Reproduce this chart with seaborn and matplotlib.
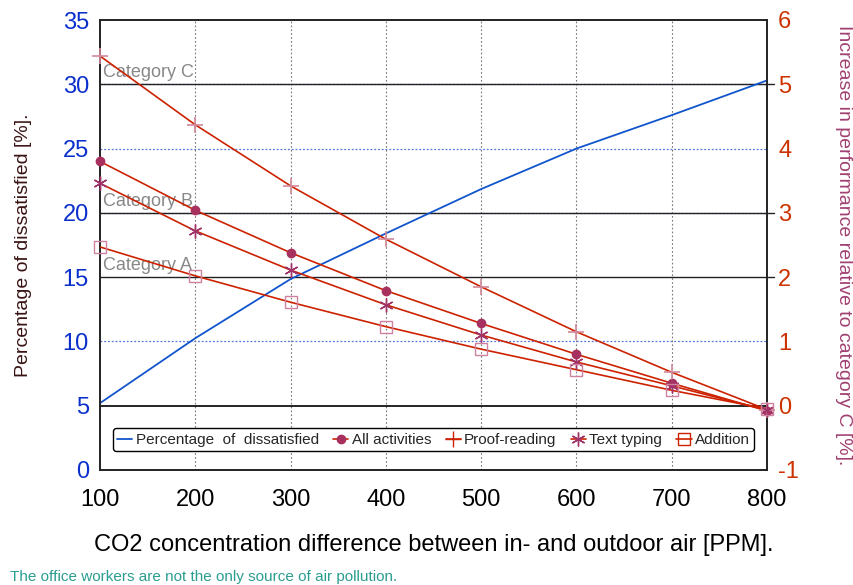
import matplotlib
matplotlib.use("Agg")
import matplotlib.pyplot as plt
import seaborn as sns
import pandas as pd
from matplotlib.lines import Line2D

# ---- data ----
co2 = [100, 200, 300, 400, 500, 600, 700, 800]
dissatisfied = [5.2, 10.25, 14.85, 18.4, 21.85, 25.0, 27.6, 30.3]
all_activities = [3.80, 3.04, 2.38, 1.79, 1.28, 0.80, 0.35, -0.08]
proof_reading = [5.44, 4.37, 3.42, 2.59, 1.85, 1.15, 0.52, -0.06]
text_typing = [3.46, 2.72, 2.11, 1.57, 1.10, 0.68, 0.31, -0.07]
addition = [2.47, 2.02, 1.61, 1.23, 0.88, 0.56, 0.24, -0.05]
categories = ["Category A", "Category B", "Category C"]
category_levels = [15, 20, 30]
left_ticks = [0, 5, 10, 15, 20, 25, 30, 35]
right_ticks = [-1, 0, 1, 2, 3, 4, 5, 6]
x_ticks = [100, 200, 300, 400, 500, 600, 700, 800]

sns.set_style("white")
FONT = ["Liberation Sans Narrow", "Liberation Sans", "DejaVu Sans"]
plt.rcParams["font.family"] = FONT
plt.rcParams["axes.unicode_minus"] = False

fig = plt.figure(figsize=(8.54, 5.85), dpi=100)
ax = fig.add_axes([100 / 854, 1 - 470 / 585, 667 / 854, 450 / 585])
ax2 = ax.twinx()

RED = "#cc2200"
BLUE = "#1155cc"

# gridlines
for y in [10, 20, 25, 30]:
    ax.axhline(y, color="#5577dd", lw=0.9, ls=(0, (1.5, 1.5)), zorder=1)
for x in x_ticks[1:-1]:
    ax.axvline(x, color="#777777", lw=0.8, ls=(0, (1.5, 2)), zorder=1)
ax.axhline(5, color="black", lw=1.2, zorder=1.5)
for lvl, name in zip(category_levels, categories):
    ax.axhline(lvl, xmin=0, xmax=1.01, color="#222222", lw=1.0, zorder=1.5, clip_on=False)
    ax.text(103, lvl + 0.25, name, color="#888888", fontsize=13, ha="left", va="bottom", zorder=2)

# blue line
df_blue = pd.DataFrame({"x": co2, "y": dissatisfied})
sns.lineplot(data=df_blue, x="x", y="y", ax=ax, color=BLUE, lw=1.3, zorder=3, legend=False)

# performance series
series = [
    (all_activities, "o", dict(markersize=6, markerfacecolor="#a8305e", markeredgecolor="#a8305e")),
    (proof_reading, "+", dict(markersize=12, markeredgecolor="#d08898", markeredgewidth=1.2)),
    (text_typing, (6, 2, 0), dict(markersize=10, markeredgecolor="#a03468", markeredgewidth=1.0)),
    (addition, "s", dict(markersize=9, markerfacecolor="none", markeredgecolor="#d080a0", markeredgewidth=1.0)),
]
for vals, mk, kw in series:
    d = pd.DataFrame({"x": co2, "y": vals})
    sns.lineplot(data=d, x="x", y="y", ax=ax2, color=RED, lw=1.2, zorder=3, legend=False)
    ax2.plot(co2, vals, ls="none", marker=mk, zorder=4, clip_on=False, **kw)

ax.set_xlim(100, 800)
ax.set_ylim(0, 35)
ax2.set_ylim(-1, 6)
ax.set_xticks(x_ticks)
ax.set_yticks(left_ticks)
ax2.set_yticks(right_ticks)
ax.tick_params(axis="x", labelsize=17, colors="black", length=0, pad=14)
ax.tick_params(axis="y", labelsize=17, labelcolor="#0a2fcc", length=0, pad=8)
ax2.tick_params(axis="y", labelsize=17, labelcolor="#cc3300", length=0, pad=8)
ax.set_xlabel("CO2 concentration difference between in- and outdoor air [PPM].",
              fontsize=17, color="black", labelpad=16)
ax.set_ylabel("Percentage of dissatisfied [%].", fontsize=14, color="#3a1414", labelpad=22)
ax2.set_ylabel("Increase in performance relative to category C [%].", fontsize=14,
               color="#a04070", rotation=-90, labelpad=38)

for a in (ax, ax2):
    for s in a.spines.values():
        s.set_color("#222222")
        s.set_linewidth(1.2)
ax.set_facecolor("white")

handles = [
    Line2D([], [], color=BLUE, lw=1.3),
    Line2D([], [], color=RED, lw=1.2, marker="o", markersize=6, markerfacecolor="#a8305e", markeredgecolor="#a8305e"),
    Line2D([], [], color=RED, lw=1.2, marker="+", markersize=12, markeredgecolor=RED),
    Line2D([], [], color=RED, lw=1.2, marker=(6, 2, 0), markersize=10, markeredgecolor="#a03468"),
    Line2D([], [], color=RED, lw=1.2, marker="s", markersize=8, markerfacecolor="none", markeredgecolor=RED),
]
labels = ["Percentage  of  dissatisfied", "All activities", "Proof-reading", "Text typing", "Addition"]
leg = ax2.legend(handles, labels, loc="center", bbox_to_anchor=(0.5, 0.067), ncol=5,
                 fontsize=11, handlelength=1.0, handletextpad=0.2, columnspacing=0.95,
                 frameon=True, fancybox=True, borderpad=0.3, framealpha=1)
leg.get_frame().set_edgecolor("black")
leg.get_frame().set_linewidth(1.0)
leg.set_zorder(10)

fig.text(10 / 854, 1 - 577 / 585, "The office workers are not the only source of air pollution.",
         color="#2a9d8f", fontsize=11, ha="left", va="center")

fig.savefig("out.png", dpi=100)
